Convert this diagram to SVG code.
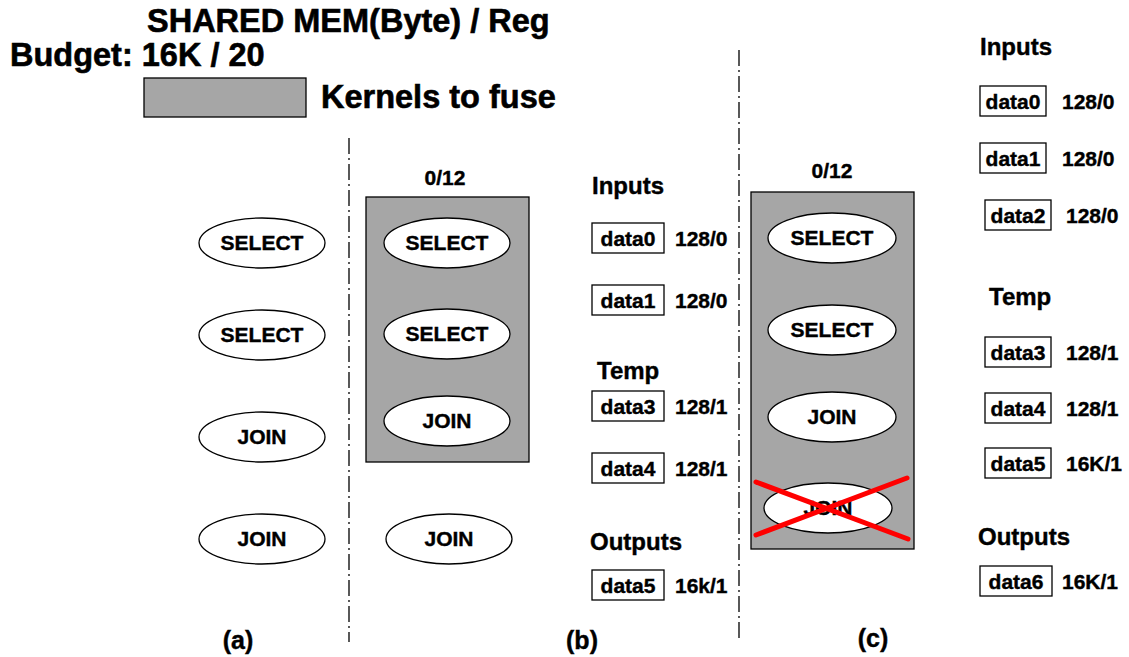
<svg xmlns="http://www.w3.org/2000/svg" width="1129" height="657" viewBox="0 0 1129 657">
<style>
text{font-family:"Liberation Sans",Arial,sans-serif;font-weight:bold;fill:#000;stroke:#000;stroke-width:0.4}
.t{font-size:32.5px;stroke-width:0.6}
.op{font-size:21px;text-anchor:middle}
.h{font-size:24px}
.d{font-size:21px;text-anchor:middle}
.v{font-size:21px}
.lab{font-size:25px;text-anchor:middle}
.ell{fill:#fff;stroke:#000;stroke-width:1.3}
.box{fill:#fff;stroke:#000;stroke-width:1.3}
.grp{fill:#a6a6a6;stroke:#000;stroke-width:1.3}
.div{stroke:#000;stroke-width:1.3;stroke-dasharray:16,4,2,4;fill:none}
.x{stroke:#ff0000;stroke-width:5;stroke-linecap:round}
</style>
<rect width="1129" height="657" fill="#fff"/>
<g id="header">
<text class="t" x="147" y="32">SHARED MEM(Byte) / Reg</text>
<text class="t" x="10" y="66">Budget: 16K / 20</text>
<rect class="grp" x="144" y="78" width="162" height="39"/>
<text class="t" x="321" y="108">Kernels to fuse</text>
</g>
<g id="dividers">
<line class="div" x1="349" y1="138" x2="349" y2="642"/>
<line class="div" x1="739" y1="50" x2="739" y2="640"/>
</g>
<g id="panel-a">
<ellipse class="ell" cx="262" cy="243" rx="63" ry="25"/><text class="op" x="262" y="250">SELECT</text>
<ellipse class="ell" cx="262" cy="335" rx="63" ry="25"/><text class="op" x="262" y="342">SELECT</text>
<ellipse class="ell" cx="262" cy="437" rx="63" ry="25"/><text class="op" x="262" y="444">JOIN</text>
<ellipse class="ell" cx="262" cy="539" rx="63" ry="25"/><text class="op" x="262" y="546">JOIN</text>
<text class="lab" x="238" y="649">(a)</text>
</g>
<g id="panel-b">
<text class="op" x="445" y="185">0/12</text>
<rect class="grp" x="366" y="197" width="163" height="265"/>
<ellipse class="ell" cx="447" cy="243" rx="63" ry="25"/><text class="op" x="447" y="250">SELECT</text>
<ellipse class="ell" cx="447" cy="334" rx="63" ry="25"/><text class="op" x="447" y="341">SELECT</text>
<ellipse class="ell" cx="447" cy="421" rx="63" ry="25"/><text class="op" x="447" y="428">JOIN</text>
<ellipse class="ell" cx="449" cy="539" rx="63" ry="25"/><text class="op" x="449" y="546">JOIN</text>
<text class="lab" x="582" y="649">(b)</text>
</g>
<g id="data-b">
<text class="h" x="592" y="194">Inputs</text>
<rect class="box" x="592" y="223" width="72" height="30"/><text class="d" x="628" y="246">data0</text><text class="v" x="675" y="246">128/0</text>
<rect class="box" x="592" y="285" width="72" height="30"/><text class="d" x="628" y="308">data1</text><text class="v" x="675" y="308">128/0</text>
<text class="h" x="597" y="379">Temp</text>
<rect class="box" x="592" y="391" width="72" height="30"/><text class="d" x="628" y="414">data3</text><text class="v" x="675" y="414">128/1</text>
<rect class="box" x="592" y="453" width="72" height="30"/><text class="d" x="628" y="476">data4</text><text class="v" x="675" y="476">128/1</text>
<text class="h" x="590" y="550">Outputs</text>
<rect class="box" x="592" y="570" width="72" height="30"/><text class="d" x="628" y="593">data5</text><text class="v" x="675" y="593">16k/1</text>
</g>
<g id="panel-c">
<text class="op" x="832" y="178">0/12</text>
<rect class="grp" x="751" y="192" width="163" height="357"/>
<ellipse class="ell" cx="832" cy="238" rx="64" ry="25"/><text class="op" x="832" y="245">SELECT</text>
<ellipse class="ell" cx="832" cy="330" rx="64" ry="25"/><text class="op" x="832" y="337">SELECT</text>
<ellipse class="ell" cx="832" cy="417" rx="64" ry="25"/><text class="op" x="832" y="424">JOIN</text>
<ellipse class="ell" cx="828" cy="508" rx="64" ry="25"/><text class="op" x="828" y="515">JOIN</text>
<line class="x" x1="756" y1="482" x2="908" y2="539"/>
<line class="x" x1="756" y1="535" x2="907" y2="478"/>
<text class="lab" x="873" y="647">(c)</text>
</g>
<g id="data-c">
<text class="h" x="980" y="55">Inputs</text>
<rect class="box" x="980" y="86" width="66" height="30"/><text class="d" x="1013" y="109">data0</text><text class="v" x="1062" y="109">128/0</text>
<rect class="box" x="980" y="143" width="66" height="30"/><text class="d" x="1013" y="166">data1</text><text class="v" x="1062" y="166">128/0</text>
<rect class="box" x="985" y="200" width="66" height="30"/><text class="d" x="1018" y="223">data2</text><text class="v" x="1066" y="223">128/0</text>
<text class="h" x="989" y="305">Temp</text>
<rect class="box" x="985" y="337" width="66" height="30"/><text class="d" x="1018" y="360">data3</text><text class="v" x="1066" y="360">128/1</text>
<rect class="box" x="985" y="393" width="66" height="30"/><text class="d" x="1018" y="416">data4</text><text class="v" x="1066" y="416">128/1</text>
<rect class="box" x="985" y="448" width="66" height="30"/><text class="d" x="1018" y="471">data5</text><text class="v" x="1066" y="471">16K/1</text>
<text class="h" x="978" y="545">Outputs</text>
<rect class="box" x="980" y="566" width="72" height="30"/><text class="d" x="1016" y="589">data6</text><text class="v" x="1062" y="589">16K/1</text>
</g>
</svg>
